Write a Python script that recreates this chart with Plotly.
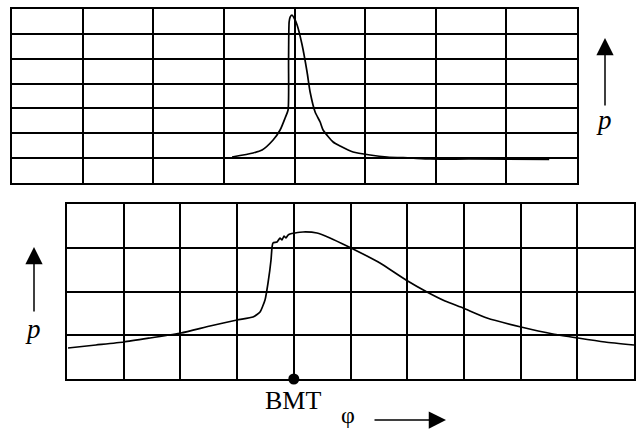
import plotly.graph_objects as go

W, H = 641, 430

# Top panel trace (axis units: x 0..8, y 0..7)
top_x = [3.116, 3.414, 3.541, 3.697, 3.796, 3.867, 3.909, 3.916, 3.924, 3.938, 3.966, 3.994,
         4.037, 4.108, 4.178, 4.221, 4.292, 4.363, 4.405, 4.547, 4.646, 4.830, 5.071, 5.312,
         5.637, 5.921, 6.487, 7.606]
top_y = [1.046, 1.207, 1.327, 1.730, 2.132, 2.615, 2.937, 4.948, 6.476, 6.677, 6.758, 6.637,
         6.356, 5.551, 4.465, 3.661, 2.856, 2.454, 2.132, 1.649, 1.488, 1.247, 1.126, 1.046,
         1.006, 0.965, 0.965, 0.945]

# Bottom panel trace (axis units: x 0..10, y 0..4)
bot_x = [0.018, 0.511, 1.005, 1.464, 2.011, 2.522, 2.998, 3.280, 3.404, 3.492, 3.545, 3.598,
         3.616, 3.633, 3.704, 3.757, 3.792, 3.827, 3.862, 3.898, 3.933, 4.021, 4.162, 4.409,
         4.638, 4.974, 5.256, 5.520, 5.979, 6.349, 6.667, 6.984, 7.407, 8.007, 8.571, 9.012,
         9.489, 10.0]
bot_y = [0.709, 0.777, 0.846, 0.937, 1.051, 1.211, 1.349, 1.417, 1.531, 1.806, 2.194, 2.720,
         3.017, 3.109, 3.131, 3.223, 3.177, 3.269, 3.223, 3.291, 3.314, 3.337, 3.360, 3.337,
         3.223, 3.017, 2.834, 2.651, 2.263, 1.989, 1.783, 1.623, 1.394, 1.189, 1.029, 0.937,
         0.846, 0.777]

bmt_x = [4.0]
bmt_y = [0.0]

fig = go.Figure()
fig.add_trace(go.Scatter(x=top_x, y=top_y, mode="lines", xaxis="x", yaxis="y",
                         line=dict(color="black", width=1.7, shape="spline", smoothing=0.6),
                         cliponaxis=False, showlegend=False))
fig.add_trace(go.Scatter(x=bot_x, y=bot_y, mode="lines", xaxis="x2", yaxis="y2",
                         line=dict(color="black", width=1.7, shape="spline", smoothing=0.5),
                         cliponaxis=False, showlegend=False))
fig.add_trace(go.Scatter(x=bmt_x, y=bmt_y, mode="markers", xaxis="x2", yaxis="y2",
                         marker=dict(color="black", size=11), cliponaxis=False, showlegend=False))

def px(v):
    return v / W

def py(v):
    return 1 - v / H

ax_common = dict(showgrid=True, gridcolor="black", gridwidth=1.8, showline=True, linecolor="black",
                 linewidth=2.2, mirror=True, showticklabels=False, ticks="", zeroline=False,
                 dtick=1, fixedrange=True)

fig.update_layout(
    width=W, height=H, margin=dict(l=0, r=0, t=0, b=0),
    paper_bgcolor="white", plot_bgcolor="white",
    xaxis=dict(domain=[px(12), px(577)], range=[0, 8], anchor="y", **ax_common),
    yaxis=dict(domain=[py(183), py(9)], range=[0, 7], anchor="x", **ax_common),
    xaxis2=dict(domain=[px(67), px(634)], range=[0, 10], anchor="y2", **ax_common),
    yaxis2=dict(domain=[py(379), py(204)], range=[0, 4], anchor="x2", **ax_common),
)

serif = "Liberation Serif"
def label(x, y, text, size, italic=False):
    return dict(x=px(x), y=py(y), xref="paper", yref="paper", text=text, showarrow=False,
                xanchor="center", yanchor="middle",
                font=dict(family=serif, size=size, color="black",
                          style="italic" if italic else "normal"))

def arrow(x, y, ax, ay):
    return dict(x=px(x), y=py(y), xref="paper", yref="paper", ax=ax, ay=ay, text="",
                showarrow=True, arrowhead=2, arrowsize=2.3, arrowwidth=1.5, arrowcolor="black")

anns = [
    arrow(605, 38, 0, 69),
    label(604, 120, "p", 27, italic=True),
    arrow(34, 247, 0, 66),
    label(33, 329, "p", 27, italic=True),
    label(293, 400, "BMT", 26),
    label(348, 415, "φ", 24),
    arrow(446, 420, -73, 0),
]
fig.update_layout(annotations=anns)

fig.write_html("out.html")
